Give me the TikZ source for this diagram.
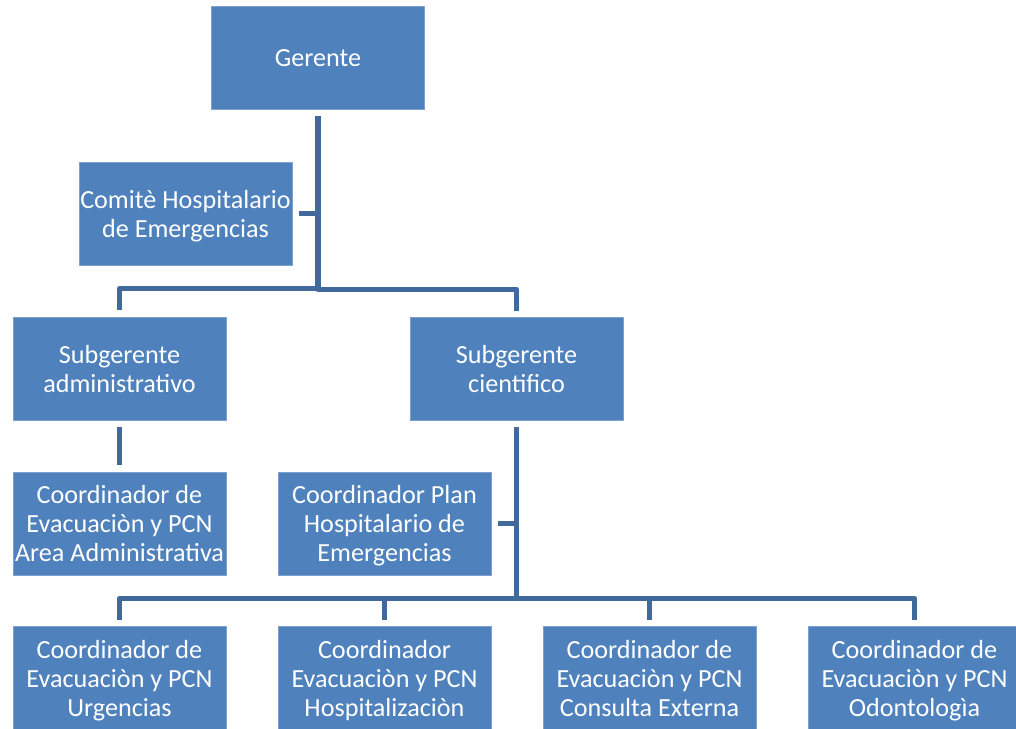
\documentclass[tikz,border=0pt]{standalone}
\usepackage{fontspec}
\setmainfont{Carlito}
\usetikzlibrary{positioning}

\definecolor{boxblue}{HTML}{4F81BD}
\definecolor{edgeblue}{HTML}{7DA0CE}
\definecolor{linkblue}{HTML}{41699B}

\begin{document}
\begin{tikzpicture}[node distance=6.625cm, line join=round,
    box/.style={rectangle, fill=boxblue, draw=edgeblue, line width=0.4pt,
        minimum width=5.325cm, minimum height=2.575cm, inner sep=0pt,
        align=center, text=white, text depth=0pt,
        font=\fontsize{18.6}{20.6}\selectfont},
    link/.style={draw=linkblue, line width=3.6pt, shorten <=0.16cm, shorten >=0.16cm}]
    \useasboundingbox (0,0) rectangle (25.4,-18.2);

    % bottom row
    \node[box] (urg) at (2.9875,-16.95) {Coordinador de\\Evacuaciòn y PCN\\Urgencias};
    \node[box] (hosp) [right of=urg] {Coordinador\\Evacuaciòn y PCN\\Hospitalizaciòn};
    \node[box] (cext) [right of=hosp] {Coordinador de\\Evacuaciòn y PCN\\Consulta Externa};
    \node[box] (odon) [right of=cext] {Coordinador de\\Evacuaciòn y PCN\\Odontologìa};

    % middle rows
    \node[box] (area) [above of=urg, node distance=3.86cm] {Coordinador de\\Evacuaciòn y PCN\\Area Administrativa};
    \node[box] (plan) [above of=hosp, node distance=3.86cm] {Coordinador Plan\\Hospitalario de\\Emergencias};
    \node[box] (sadm) [above of=area, node distance=3.875cm] {Subgerente\\administrativo};
    \node[box] (scie) at (12.9125,-9.225) {Subgerente\\cientifico};
    \node[box] (comite) at (4.6375,-5.3375) {Comitè Hospitalario\\de Emergencias};
    \node[box] (ger) at (7.95,-1.45) {Gerente};

    \draw[link] (sadm.north) -- ++(0,0.7) -| (ger.south);
    \draw[link] (scie.north) -- ++(0,0.7) -| (ger.south);
    \draw[link, shorten >=0pt] (comite.east) -- (comite.east -| ger.south);
    \draw[link] (area.north) -- (sadm.south);
    \draw[link, shorten >=0pt] (plan.east) -- (plan.east -| scie.south);
    \foreach \n in {urg, hosp, cext, odon}
        \draw[link] (\n.north) -- ++(0,0.7) -| (scie.south);
\end{tikzpicture}
\end{document}
